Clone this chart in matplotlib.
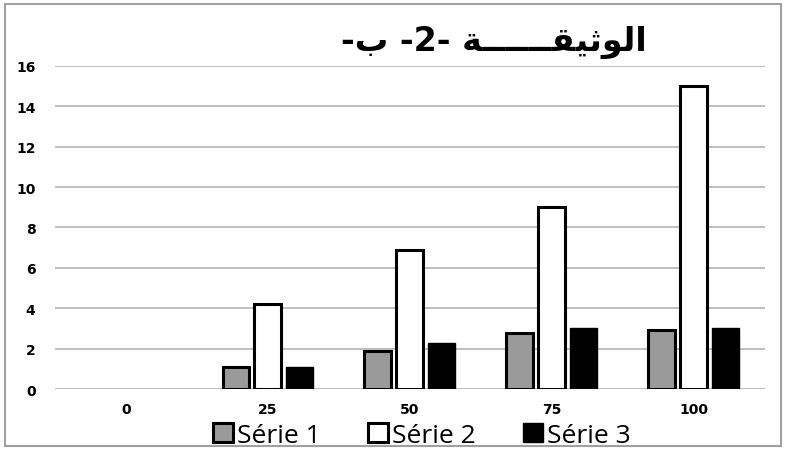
import matplotlib.pyplot as plt
import numpy as np
from matplotlib.patches import Patch, Rectangle


categories = ["0", "25", "50", "75", "100"]
serie_1 = [0, 1.1, 1.9, 2.8, 2.9]
serie_2 = [0, 4.2, 6.9, 9.0, 15.0]
serie_3 = [0, 1.1, 2.3, 3.0, 3.0]
series_names = ["Série 1", "Série 2", "Série 3"]
y_ticks = [0, 2, 4, 6, 8, 10, 12, 14, 16]

# title "الوثيقـــــة -2- ب-" written in visual order with presentation forms
TITLE = "-\uFE8F -2- \uFE94" + "\u0640" * 6 + "\uFED8\uFEF4\uFE9B\uFEEE\uFEDF\uFE8D"

fig = plt.figure(figsize=(7.86, 4.52), dpi=100)
ax = fig.add_axes([0.070, 0.137, 0.903, 0.715])

x = np.arange(len(categories))
width = 0.19
offset = 0.225
styles = [
    dict(facecolor="#9a9a9a", edgecolor="black", linewidth=2.2),
    dict(facecolor="white", edgecolor="black", linewidth=2.2),
    dict(facecolor="black", edgecolor="black", linewidth=1.0),
]

for i, (vals, style) in enumerate(zip([serie_1, serie_2, serie_3], styles)):
    vals = np.array(vals, dtype=float)
    keep = vals > 0
    ax.bar(x[keep] + (i - 1) * offset, vals[keep], width=width, zorder=3, **style)

ax.set_xlim(-0.5, len(categories) - 0.5)
ax.set_ylim(0, 16)
ax.set_yticks(y_ticks)
ax.set_xticks(x)
ax.set_xticklabels(categories)
ax.tick_params(axis="both", length=0, labelsize=10)
ax.tick_params(axis="y", pad=14)
ax.tick_params(axis="x", pad=9)
for lab in ax.get_xticklabels() + ax.get_yticklabels():
    lab.set_fontweight("bold")
ax.grid(axis="y", color="#b4b4b4", linewidth=1.2, zorder=0)
for spine in ax.spines.values():
    spine.set_visible(False)

fig.text(0.628, 0.905, TITLE, fontsize=24, fontweight="bold",
         family="DejaVu Sans", ha="center", va="center")

handles = [Patch(**s) for s in styles]
fig.legend(handles, series_names, loc="center", bbox_to_anchor=(0.537, 0.035),
           ncol=3, frameon=False, handlelength=0.75, handleheight=0.75,
           handletextpad=0.15, columnspacing=1.8,
           prop={"family": "Open Sans", "size": 19})

fig.patches.append(Rectangle((0.006, 0.01), 0.988, 0.98, transform=fig.transFigure,
                             fill=False, edgecolor="#a0a0a0", linewidth=1.5))

fig.savefig("out.png", dpi=100)
